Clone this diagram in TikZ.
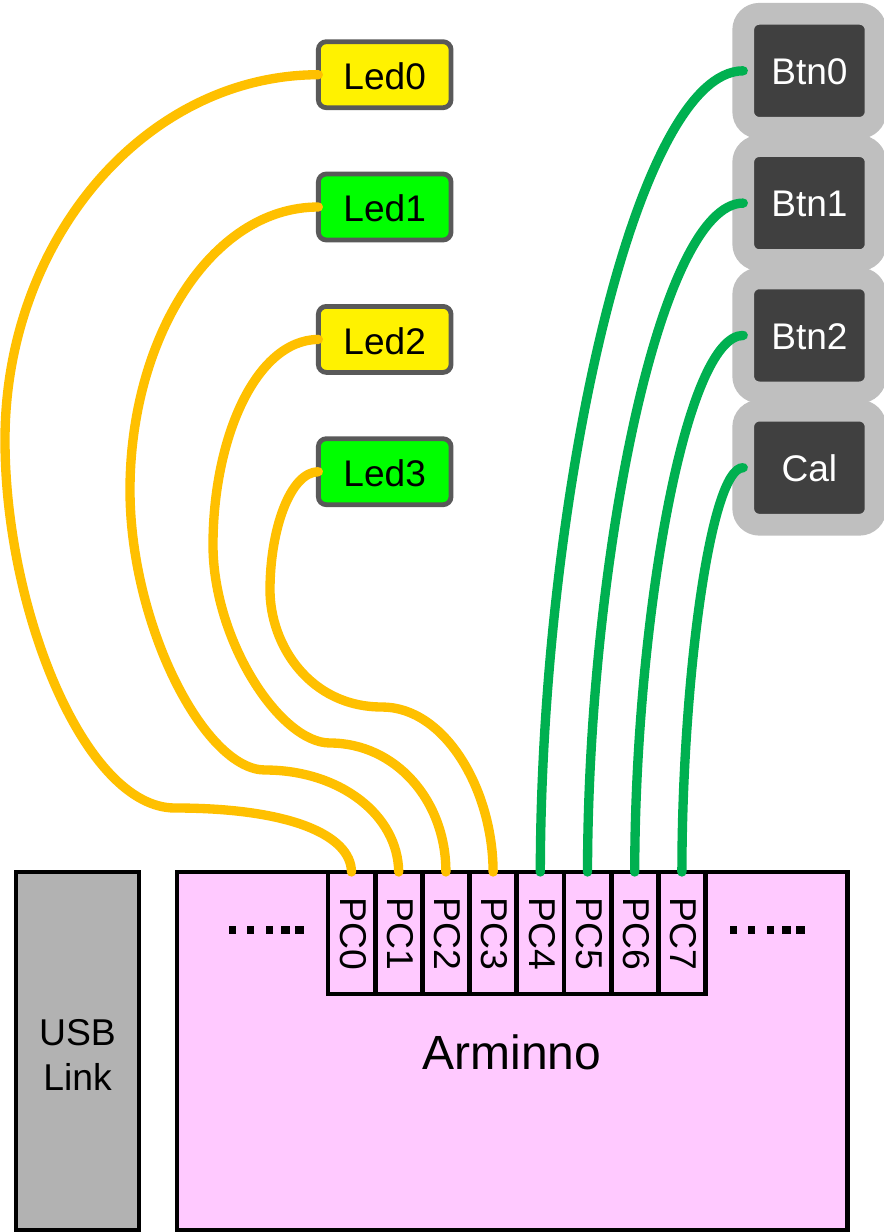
\documentclass[tikz,border=0pt]{standalone}
\usepackage{fontspec}
\setmainfont{Liberation Sans}
\definecolor{pinkb}{HTML}{FFC9FF}
\definecolor{usbg}{HTML}{B2B2B2}
\definecolor{ledb}{HTML}{595959}
\definecolor{wirey}{HTML}{FFC000}
\definecolor{wireg}{HTML}{00B050}
\definecolor{btnd}{HTML}{404040}
\definecolor{btno}{HTML}{BFBFBF}
\newcommand{\nudged}[2]{\raisebox{-#1}[\height][\depth]{#2}}
\tikzset{
  sz/.style={font=\fontsize{#1}{33.75}\selectfont},
  board/.style={draw=black,line width=3.7pt,minimum width=670.5*0.75pt,minimum height=358*0.75pt,fill=pinkb,inner sep=0pt,outer sep=0pt},
  usbbox/.style={draw=black,line width=3.7pt,minimum width=123*0.75pt,minimum height=358*0.75pt,fill=usbg,inner sep=0pt,outer sep=0pt},
  pin/.style={draw=black,line width=3.6pt,minimum width=47.2*0.75pt,minimum height=122*0.75pt,fill=pinkb,inner sep=0pt,outer sep=0pt,sz=28},
  ledbox/.style={draw=ledb,line width=3.6pt,rounded corners=6pt,minimum width=132.7*0.75pt,minimum height=66*0.75pt,inner sep=0pt,outer sep=0pt,sz=27.8},
  btnbox/.style={draw=btno,fill=btnd,line width=16.3pt,rounded corners=12pt,minimum width=132.3*0.75pt,minimum height=114*0.75pt,inner sep=0pt,outer sep=0pt,text=white,sz=27.8},
  wire/.style={line width=7pt,line cap=round},
  ywire/.style={wire,draw=wirey},
  gwire/.style={wire,draw=wireg},
  dots/.style={line width=5.7pt,dash pattern=on 5.25pt off 8.25pt on 5.25pt off 9pt on 5.25pt off 6pt on 6.75pt off 3.75pt on 6.75pt off 200pt}
}
\begin{document}
\begin{tikzpicture}[x=0.75pt,y=-0.75pt]
\useasboundingbox (0,0) rectangle (884,1232);
\node[usbbox] (usb) at (77.5,1051) {};
\node[align=center,sz=28,inner sep=0pt] (usbl) at (77.5,1055) {USB\\Link};
\node[board] (board) at (512.25,1051) {};
\node[sz=36] (arm) at (512,1052) {Arminno};
\foreach \n/\xx in {0/351.5,1/398.7,2/445.9,3/493.1,4/540.3,5/587.5,6/634.7,7/681.9}{
  \node[pin] (PC\n) at (\xx,933) {\hspace*{2.5pt}\nudged{0.75pt}{\rotatebox{-90}{PC\n}}};
}
\coordinate (dl1) at (229,930); \coordinate (dl2) at (304,930);
\coordinate (dr1) at (730,930); \coordinate (dr2) at (805,930);
\draw[dots] (dl1) -- (dl2);
\draw[dots] (dr1) -- (dr2);
\node[ledbox,fill=yellow] (Led0) at (384.7,74.7) {\nudged{1.25pt}{Led0}};
\node[ledbox,fill=green] (Led1) at (384.7,207) {\nudged{1.25pt}{Led1}};
\node[ledbox,fill=yellow] (Led2) at (384.7,339.4) {\nudged{1.25pt}{Led2}};
\node[ledbox,fill=green] (Led3) at (384.7,471.7) {\nudged{1.25pt}{Led3}};
\node[btnbox] (Btn0) at (809.4,70.8) {\nudged{0.75pt}{Btn0}};
\node[btnbox] (Btn1) at (809.4,203.1) {\nudged{0.75pt}{Btn1}};
\node[btnbox] (Btn2) at (809.4,335.4) {\nudged{0.75pt}{Btn2}};
\node[btnbox] (Cal) at (809.4,467.7) {\nudged{0.75pt}{Cal}};
\draw[ywire] (Led0.west) .. controls (145,75) and (5,240) .. (5,440) .. controls (5,610) and (85,808) .. (175,808) .. controls (290,808) and (351,835) .. (PC0.north);
\draw[ywire] (Led1.west) .. controls (210,207) and (130,340) .. (130,490) .. controls (130,625) and (205,770) .. (265,770) .. controls (340,770) and (398,815) .. (PC1.north);
\draw[ywire] (Led2.west) .. controls (255,340) and (213,440) .. (213,545) .. controls (213,640) and (280,743) .. (330,743) .. controls (395,743) and (446,800) .. (PC2.north);
\draw[ywire] (Led3.west) .. controls (290,472) and (270,530) .. (270,590) .. controls (270,645) and (310,707) .. (382,707) .. controls (445,707) and (493,790) .. (PC3.north);
\draw[gwire] (PC4.north) .. controls (541,500) and (635,71) .. (Btn0.west);
\draw[gwire] (PC5.north) .. controls (588,561) and (660,203) .. (Btn1.west);
\draw[gwire] (PC6.north) .. controls (635,623) and (685,335) .. (Btn2.west);
\draw[gwire] (PC7.north) .. controls (682,684) and (710,467) .. (Cal.west);
\end{tikzpicture}
\end{document}
